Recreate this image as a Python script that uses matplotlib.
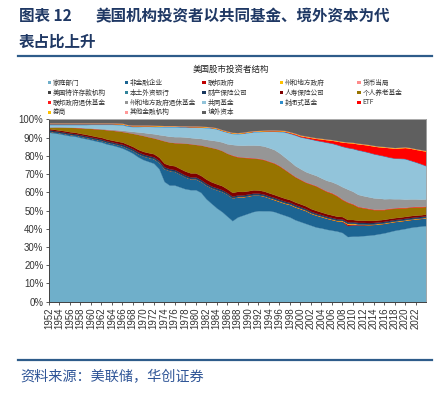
import matplotlib.pyplot as plt
import numpy as np
from matplotlib.patches import Rectangle
from matplotlib.lines import Line2D

plt.rcParams['font.family'] = ['Noto Sans CJK SC', 'DejaVu Sans']

years = list(range(1952, 2025))

names = ['家庭部门', '非金融企业', '联邦政府', '州和地方政府', '货币当局',
         '美国特许存款机构', '本土外资银行', '财产保险公司', '人寿保险公司', '个人养老基金',
         '联邦政府退休基金', '州和地方政府退休基金', '共同基金', '封闭式基金', 'ETF',
         '券商', '其他金融机构', '境外资本']

# 各部门持股占比（%），1952-2024，按年
household = [93.0, 92.6, 92.2, 91.6, 91.1, 90.8, 90.1, 89.5, 88.9, 88.2,
             87.6, 86.6, 86.0, 85.2, 84.3, 83.0, 81.5, 79.5, 78.0, 77.0,
             76.0, 73.0, 66.0, 64.0, 64.0, 63.0, 62.0, 61.5, 61.5, 60.0,
             56.5, 54.0, 51.5, 49.5, 47.0, 44.5, 46.5, 47.5, 48.5, 49.5,
             50.0, 50.0, 50.0, 49.5, 48.5, 47.5, 46.5, 45.0, 44.0, 43.0,
             42.0, 41.0, 40.5, 39.8, 39.3, 38.8, 38.0, 35.8, 36.0, 36.0,
             36.3, 36.5, 36.8, 37.3, 37.8, 38.5, 39.2, 39.7, 40.2, 40.8,
             41.2, 41.5, 41.8]
nonfin = [0.6, 0.6, 0.6, 0.7, 0.7, 0.7, 0.8, 0.8, 0.8, 0.9,
          0.9, 1.0, 1.0, 1.1, 1.2, 1.3, 1.5, 1.8, 2.0, 2.2,
          2.5, 3.5, 7.0, 8.0, 7.5, 7.0, 6.5, 6.0, 6.0, 6.0,
          7.5, 8.5, 10.0, 11.0, 12.0, 12.5, 11.0, 10.0, 9.5, 9.0,
          8.5, 8.0, 7.0, 6.5, 6.5, 6.5, 6.8, 7.0, 7.0, 7.0,
          6.5, 6.5, 6.2, 6.0, 5.8, 5.6, 6.0, 6.0, 6.2, 6.2,
          6.0, 5.8, 5.6, 5.4, 5.2, 5.0, 4.8, 4.6, 4.5, 4.3,
          4.2, 4.2, 4.2]
fed_gov = [0, 0, 0, 0, 0, 0, 0, 0, 0, 0,
           0, 0, 0, 0, 0, 0, 0, 0, 0, 0,
           0, 0, 0, 0, 0, 0, 0, 0, 0, 0,
           0, 0, 0, 0, 0, 0, 0, 0, 0, 0,
           0, 0, 0, 0, 0, 0, 0, 0, 0, 0,
           0, 0, 0, 0, 0, 0, 0.3, 0.8, 0.5, 0.2,
           0.1, 0, 0, 0, 0, 0, 0, 0, 0, 0,
           0, 0, 0]
state_gov = [0, 0, 0, 0, 0, 0, 0, 0, 0, 0,
             0, 0, 0, 0, 0, 0, 0, 0, 0, 0,
             0, 0, 0, 0, 0, 0, 0, 0, 0, 0,
             0, 0, 0, 0, 0, 0, 0.2, 0.2, 0.2, 0.2,
             0.2, 0.2, 0.2, 0.35, 0.35, 0.35, 0.35, 0.35, 0.35, 0.35,
             0.35, 0.35, 0.35, 0.35, 0.35, 0.35, 0.35, 0.35, 0.35, 0.35,
             0.35, 0.35, 0.35, 0.35, 0.35, 0.35, 0.35, 0.35, 0.35, 0.35,
             0.35, 0.35, 0.35]
monetary = [0, 0, 0, 0, 0, 0, 0, 0, 0, 0,
            0, 0, 0, 0, 0, 0, 0, 0, 0, 0,
            0, 0, 0, 0, 0, 0, 0, 0, 0, 0,
            0, 0, 0, 0, 0, 0, 0, 0, 0, 0,
            0, 0, 0, 0, 0, 0, 0, 0, 0, 0,
            0, 0, 0, 0, 0, 0, 0, 0.1, 0.1, 0,
            0, 0, 0, 0, 0, 0, 0, 0, 0, 0,
            0, 0, 0]
depository = [0.1, 0.1, 0.1, 0.1, 0.1, 0.1, 0.1, 0.1, 0.1, 0.1,
              0.1, 0.1, 0.1, 0.1, 0.1, 0.1, 0.1, 0.1, 0.1, 0.1,
              0.1, 0.1, 0.1, 0.1, 0.1, 0.1, 0.1, 0.1, 0.1, 0.1,
              0.1, 0.1, 0.1, 0.1, 0.1, 0.1, 0.1, 0.1, 0.1, 0.1,
              0.1, 0.1, 0.1, 0.1, 0.1, 0.1, 0.1, 0.1, 0.1, 0.1,
              0.1, 0.1, 0.1, 0.1, 0.1, 0.1, 0.1, 0.1, 0.1, 0.1,
              0.1, 0.1, 0.1, 0.1, 0.1, 0.1, 0.1, 0.1, 0.1, 0.1,
              0.1, 0.1, 0.1]
foreign_banks = [0, 0, 0, 0, 0, 0, 0, 0, 0, 0,
                 0, 0, 0, 0, 0, 0, 0, 0, 0.1, 0.1,
                 0.1, 0.1, 0.1, 0.1, 0.1, 0.1, 0.1, 0.1, 0.1, 0.1,
                 0.1, 0.1, 0.1, 0.1, 0.1, 0.1, 0.1, 0.1, 0.1, 0.1,
                 0.1, 0.1, 0.1, 0.1, 0.1, 0.1, 0.1, 0.1, 0.1, 0.1,
                 0.1, 0.1, 0.1, 0.1, 0.1, 0.1, 0.1, 0.1, 0.1, 0.1,
                 0.1, 0.1, 0.1, 0.1, 0.1, 0.1, 0.1, 0.1, 0.1, 0.1,
                 0.1, 0.1, 0.1]
pc_insurance = [0.6, 0.6, 0.6, 0.6, 0.6, 0.6, 0.6, 0.6, 0.6, 0.6,
                0.6, 0.6, 0.6, 0.6, 0.8, 0.8, 0.8, 0.8, 0.8, 0.8,
                0.8, 0.8, 0.8, 0.8, 0.8, 0.8, 0.8, 0.8, 0.8, 0.8,
                0.8, 0.8, 0.8, 0.8, 0.7, 0.7, 0.7, 0.7, 0.7, 0.7,
                0.7, 0.7, 0.7, 0.7, 0.7, 0.7, 0.7, 0.7, 0.7, 0.6,
                0.6, 0.6, 0.6, 0.6, 0.6, 0.6, 0.6, 0.6, 0.6, 0.6,
                0.6, 0.6, 0.6, 0.6, 0.6, 0.6, 0.6, 0.6, 0.6, 0.6,
                0.6, 0.6, 0.6]
life_insurance = [0.7, 0.7, 0.7, 0.8, 0.8, 0.8, 0.8, 0.9, 0.9, 0.9,
                  1.0, 1.0, 1.0, 1.1, 1.2, 1.2, 1.3, 1.4, 1.5, 1.6,
                  1.7, 1.8, 2.0, 2.0, 2.1, 2.1, 2.2, 2.2, 2.2, 2.3,
                  2.3, 2.3, 2.2, 2.2, 2.1, 2.1, 2.0, 1.9, 1.8, 1.8,
                  1.7, 1.7, 1.7, 1.6, 1.6, 1.6, 1.5, 1.5, 1.5, 1.5,
                  1.5, 1.5, 1.4, 1.4, 1.4, 1.4, 1.3, 1.3, 1.2, 1.2,
                  1.2, 1.2, 1.1, 1.1, 1.1, 1.1, 1.0, 1.0, 1.0, 1.0,
                  1.0, 0.9, 0.9]
pension = [0.8, 1.3, 1.7, 2.0, 2.4, 2.6, 3.1, 3.4, 3.8, 4.2,
           4.5, 5.1, 5.4, 5.7, 5.8, 6.5, 7.2, 8.2, 8.7, 8.7,
           8.7, 9.8, 12.3, 12.6, 12.7, 14.1, 15.3, 16.0, 15.6, 16.7,
           18.0, 18.9, 19.3, 19.3, 19.5, 20.3, 18.9, 18.7, 18.1, 17.4,
           17.2, 17.2, 17.2, 17.2, 16.7, 15.7, 14.5, 13.8, 13.3, 12.9,
           13.4, 13.4, 12.8, 12.2, 11.9, 11.1, 9.3, 9.4, 8.4, 7.3,
           6.8, 6.4, 5.9, 5.6, 5.3, 5.3, 5.1, 5.1, 4.7, 4.6,
           4.5, 4.3, 4.2]
fed_retire = [0, 0, 0, 0, 0, 0, 0, 0, 0, 0,
              0, 0, 0, 0, 0, 0, 0, 0, 0, 0,
              0, 0, 0, 0, 0, 0, 0, 0, 0, 0,
              0, 0, 0, 0, 0, 0.2, 0.2, 0.2, 0.2, 0.2,
              0.2, 0.2, 0.2, 0.2, 0.2, 0.2, 0.2, 0.2, 0.2, 0.2,
              0.2, 0.2, 0.2, 0.3, 0.3, 0.3, 0.3, 0.3, 0.3, 0.3,
              0.3, 0.3, 0.3, 0.3, 0.3, 0.3, 0.3, 0.3, 0.3, 0.3,
              0.3, 0.3, 0.3]
state_retire = [0.1, 0.1, 0.1, 0.1, 0.1, 0.1, 0.2, 0.2, 0.2, 0.3,
                0.3, 0.4, 0.5, 0.6, 0.7, 0.9, 1.1, 1.4, 1.7, 2.0,
                2.3, 2.6, 3.0, 3.2, 3.3, 3.4, 3.4, 3.4, 3.5, 3.6,
                3.8, 4.0, 4.3, 4.7, 5.2, 5.8, 6.3, 6.5, 6.8, 7.0,
                7.2, 7.3, 7.4, 7.3, 7.0, 6.7, 6.4, 6.0, 5.8, 5.7,
                5.6, 5.6, 5.7, 5.8, 6.0, 6.3, 6.8, 7.0, 6.8, 6.6,
                6.4, 6.3, 6.2, 6.0, 5.7, 5.3, 5.0, 4.7, 4.5, 4.3,
                4.1, 4.0, 3.9]
mutual_fund = [1.3, 1.2, 1.2, 1.3, 1.4, 1.5, 1.5, 1.7, 2.0, 2.1,
               2.3, 2.5, 2.7, 2.8, 3.0, 2.5, 2.6, 2.9, 3.3, 3.7,
               3.9, 4.3, 4.6, 5.1, 5.3, 5.2, 5.4, 5.6, 6.0, 6.1,
               6.4, 6.6, 6.5, 6.1, 6.3, 6.0, 6.1, 6.5, 6.8, 7.2,
               7.4, 8.0, 9.0, 10.0, 11.7, 13.7, 15.2, 16.7, 17.4, 18.4,
               18.9, 19.2, 20.1, 20.8, 21.1, 21.5, 22.1, 22.7, 23.4, 24.3,
               24.4, 24.3, 24.1, 23.7, 23.4, 22.6, 22.2, 22.1, 22.1, 21.1,
               20.2, 19.3, 18.1]
closed_end = [0.6, 0.6, 0.6, 0.6, 0.6, 0.6, 0.6, 0.6, 0.5, 0.5,
              0.5, 0.5, 0.5, 0.5, 0.5, 0.5, 0.5, 0.5, 0.4, 0.4,
              0.4, 0.4, 0.4, 0.4, 0.4, 0.4, 0.4, 0.4, 0.3, 0.3,
              0.3, 0.3, 0.3, 0.3, 0.3, 0.3, 0.3, 0.3, 0.3, 0.3,
              0.3, 0.3, 0.3, 0.3, 0.3, 0.3, 0.3, 0.3, 0.2, 0.2,
              0.2, 0.2, 0.2, 0.2, 0.2, 0.2, 0.2, 0.2, 0.2, 0.2,
              0.2, 0.2, 0.2, 0.2, 0.2, 0.2, 0.2, 0.2, 0.2, 0.2,
              0.2, 0.2, 0.2]
etf = [0, 0, 0, 0, 0, 0, 0, 0, 0, 0,
       0, 0, 0, 0, 0, 0, 0, 0, 0, 0,
       0, 0, 0, 0, 0, 0, 0, 0, 0, 0,
       0, 0, 0, 0, 0, 0, 0, 0, 0, 0,
       0, 0.05, 0.05, 0.1, 0.15, 0.2, 0.3, 0.4, 0.5, 0.6,
       0.7, 0.9, 1.1, 1.3, 1.5, 1.8, 2.2, 2.6, 2.9, 3.2,
       3.5, 3.8, 4.1, 4.3, 4.7, 5.1, 5.3, 5.6, 6.0, 6.5,
       6.8, 7.3, 7.9]
broker = [0.3, 0.3, 0.3, 0.3, 0.3, 0.3, 0.3, 0.3, 0.3, 0.3,
          0.3, 0.3, 0.3, 0.3, 0.3, 0.3, 0.3, 0.3, 0.3, 0.3,
          0.3, 0.3, 0.3, 0.3, 0.3, 0.3, 0.3, 0.3, 0.3, 0.3,
          0.3, 0.3, 0.3, 0.3, 0.3, 0.3, 0.3, 0.3, 0.3, 0.3,
          0.3, 0.3, 0.3, 0.3, 0.3, 0.3, 0.3, 0.3, 0.3, 0.3,
          0.3, 0.3, 0.3, 0.3, 0.3, 0.3, 0.3, 0.3, 0.3, 0.3,
          0.3, 0.3, 0.3, 0.3, 0.3, 0.3, 0.3, 0.3, 0.3, 0.3,
          0.3, 0.3, 0.3]
other_fin = [0.1, 0.1, 0.1, 0.1, 0.1, 0.1, 0.1, 0.1, 0.1, 0.1,
             0.1, 0.1, 0.1, 0.1, 0.1, 0.1, 0.1, 0.1, 0.1, 0.1,
             0.1, 0.1, 0.1, 0.1, 0.1, 0.1, 0.1, 0.1, 0.1, 0.1,
             0.1, 0.1, 0.1, 0.1, 0.1, 0.1, 0.1, 0.1, 0.1, 0.1,
             0.1, 0.1, 0.1, 0.1, 0.1, 0.1, 0.1, 0.1, 0.1, 0.1,
             0.1, 0.1, 0.1, 0.1, 0.1, 0.1, 0.1, 0.1, 0.1, 0.1,
             0.1, 0.1, 0.1, 0.1, 0.1, 0.1, 0.1, 0.1, 0.1, 0.1,
             0.1, 0.1, 0.1]
rest_of_world = [1.8, 1.8, 1.8, 1.8, 1.8, 1.8, 1.8, 1.8, 1.8, 1.8,
                 1.8, 1.8, 1.8, 1.9, 2.0, 2.8, 3.0, 3.0, 3.0, 3.0,
                 3.1, 3.2, 3.3, 3.3, 3.3, 3.4, 3.4, 3.5, 3.5, 3.6,
                 3.8, 4.0, 4.5, 5.5, 6.3, 7.0, 7.2, 6.9, 6.5, 6.1,
                 6.0, 5.8, 5.7, 5.7, 5.8, 6.0, 6.7, 7.5, 8.5, 9.0,
                 9.5, 10.0, 10.3, 10.7, 11.0, 11.5, 12.0, 12.3, 12.5, 13.0,
                 13.3, 13.7, 14.2, 14.6, 14.8, 15.1, 15.4, 15.2, 15.0, 15.4,
                 16.0, 16.5, 17.0]

colors = ['#6FAFCA', '#1C6492', '#C00000', '#FFC000', '#FF8C8C',
          '#404040', '#31849B', '#17375E', '#7F0000', '#977400',
          '#FF1A1A', '#969696', '#92C4DA', '#2E8DCB', '#FF0000',
          '#FFC000', '#FF9999', '#5F5F5F']

W, H = 443, 396
fig = plt.figure(figsize=(W / 100, H / 100), dpi=100)


def fx(px):
    return px / W


def fy(py):
    return 1 - py / H


# 标题
title_kw = dict(fontsize=11.2, fontweight='bold', color='#1F3864', va='center')
fig.text(fx(19), fy(16), '图表 12', **title_kw)
fig.text(fx(96), fy(16), '美国机构投资者以共同基金、境外资本为代', **title_kw)
fig.text(fx(19), fy(42), '表占比上升', **title_kw)
fig.add_artist(Line2D([fx(18), fx(432)], [fy(55.5), fy(55.5)], color='#2E5C8A', lw=1.6))

# 数据
data = np.array([household, nonfin, fed_gov, state_gov, monetary, depository,
                 foreign_banks, pc_insurance, life_insurance, pension, fed_retire,
                 state_retire, mutual_fund, closed_end, etf, broker, other_fin,
                 rest_of_world], dtype=float)
share = data / data.sum(axis=0) * 100

ax = fig.add_axes([fx(49), fy(301.7), (426 - 49) / W, (301.7 - 119.5) / H])
polys = ax.stackplot(years, share, colors=colors, linewidth=0)
for p, c in zip(polys, colors):
    p.set_edgecolor(c)
    p.set_linewidth(0.2)

ax.set_xlim(1952, 2024)
ax.set_ylim(0, 100)
ax.set_yticks(range(0, 101, 10))
ax.set_yticklabels([f'{v}%' for v in range(0, 101, 10)])
ax.set_xticks(range(1952, 2023, 2))
ax.set_xticklabels([str(y) for y in range(1952, 2023, 2)], rotation=90)
ax.tick_params(axis='both', length=2.5, width=0.6, pad=1.5,
               colors='#404040', labelcolor='#333333')
for lab in ax.get_xticklabels() + ax.get_yticklabels():
    lab.set_fontfamily('Liberation Sans')
    lab.set_fontsize(6.9)
for side in ['top', 'right']:
    ax.spines[side].set_color('#A0A0A0')
    ax.spines[side].set_linewidth(0.6)
for side in ['left', 'bottom']:
    ax.spines[side].set_color('#404040')
    ax.spines[side].set_linewidth(0.7)

# 图内标题与图例
fig.text(fx(231), fy(69), '美国股市投资者结构', fontsize=6.1, color='#222222',
         ha='center', va='center')
for i, name in enumerate(names):
    row, col = divmod(i, 5)
    x0 = 47.5 + col * 77.4
    y0 = 82.7 + row * 9.9
    fig.add_artist(Rectangle((fx(x0), fy(y0 + 1.7)), 3.4 / W, 3.4 / H,
                             transform=fig.transFigure, color=colors[i], lw=0))
    fig.text(fx(x0 + 5.2), fy(y0), name, fontsize=4.8, color='#333333', va='center')

# 资料来源
fig.add_artist(Line2D([fx(18), fx(432)], [fy(360), fy(360)], color='#2E5C8A', lw=1.6))
fig.text(fx(20), fy(377), '资料来源：美联储，华创证券', fontsize=10.2, color='#2F5597',
         va='center', style='italic')

plt.savefig('out.png', dpi=100)
